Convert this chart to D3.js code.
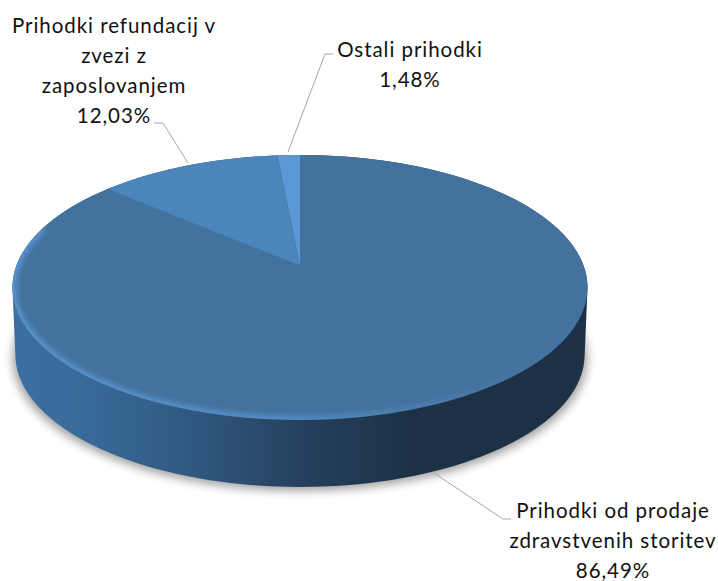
<!DOCTYPE html>
<html><head><meta charset="utf-8">
<style>html,body{margin:0;background:#fff}svg{display:block}text{font-family:Lato,"Open Sans",sans-serif;font-size:20.5px;letter-spacing:.95px;fill:#111}</style>
<script src="https://cdn.jsdelivr.net/npm/d3@7/dist/d3.min.js"></script></head><body>
<script>
const categories = ["Prihodki od prodaje zdravstvenih storitev","Prihodki refundacij v zvezi z zaposlovanjem","Ostali prihodki"];
const values = [86.49,12.03,1.48];
const valueLabels = ["86,49%","12,03%","1,48%"];
const colors = ["#44729f","#4c85b9","#5b97d4"];
const labelLines = [
  ["Prihodki od prodaje","zdravstvenih storitev","86,49%"],
  ["Prihodki refundacij v","zvezi z","zaposlovanjem","12,03%"],
  ["Ostali prihodki","1,48%"]];
const labelAnchors = [[613,518],[114,33],[410,57]];
const leaders = [
  [[434,473],[503,519],[511,519]],
  [[188,163],[163,123],[154,123]],
  [[288,152],[325,54],[333,54]]];

const W=718,H=581,cx=300,cy=266,a=283.7,b=129,p=0.162,depth=67,lh=30;
const svg=d3.select("body").append("svg").attr("width",W).attr("height",H);
const defs=svg.append("defs");
const proj=(t,dy=0,s=1)=>{const u=Math.sin(t),v=Math.cos(t),w=1+p*v;return [cx+s*a*u/w,cy-b*v/w+dy]};
const line=d3.line();
const arcPts=(t0,t1,dy=0,s=1)=>d3.range(0,181).map(i=>proj(t0+(t1-t0)*i/180,dy,s));

const pie=d3.pie().sort(null).value(d=>d).startAngle(0).endAngle(2*Math.PI);
const arcs=pie(values);

const grad=defs.append("linearGradient").attr("id","side").attr("gradientUnits","userSpaceOnUse").attr("x1",12).attr("x2",587).attr("y1",0).attr("y2",0);
[[0,"#3c6fa2"],[.12,"#386a9a"],[.3,"#315a82"],[.5,"#25415f"],[.7,"#1c3145"],[1,"#1c3145"]].forEach(([o,c])=>grad.append("stop").attr("offset",o).attr("stop-color",c));
const bev=defs.append("linearGradient").attr("id","bev").attr("gradientUnits","userSpaceOnUse").attr("x1",12).attr("x2",587).attr("y1",0).attr("y2",0);
[[0,"#5a95cf",.95],[.5,"#5590c8",.9],[.75,"#4f86b8",.45],[1,"#44729f",0]].forEach(([o,c,q])=>bev.append("stop").attr("offset",o).attr("stop-color",c).attr("stop-opacity",q));
defs.append("filter").attr("id","blur").attr("x","-10%").attr("y","-10%").attr("width","120%").attr("height","120%").append("feGaussianBlur").attr("stdDeviation",5);
defs.append("filter").attr("id","soft").attr("x","-10%").attr("y","-10%").attr("width","120%").attr("height","120%").append("feGaussianBlur").attr("stdDeviation",2.4);
const rim=arcPts(0,2*Math.PI);
defs.append("clipPath").attr("id","topClip").append("path").attr("d",line(rim)+"Z");

// cast shadow
svg.append("path").attr("d",line(arcPts(0,2*Math.PI,depth+4,1))+"Z").attr("fill","#000").attr("opacity",.36).attr("filter","url(#blur)");
// side wall: convex hull of the top and bottom rims
const hull=d3.polygonHull([...rim,...arcPts(0,2*Math.PI,depth,.99)]);
svg.append("path").attr("d",line(hull)+"Z").attr("fill","url(#side)");
// top slices
svg.append("g").selectAll("path").data(arcs).join("path")
  .attr("d",d=>line([[cx,cy],...arcPts(d.startAngle,d.endAngle)])+"Z")
  .attr("fill",(d,i)=>colors[i]);
// bevel
svg.append("g").attr("clip-path","url(#topClip)").append("path").attr("d",line(arcPts(Math.PI*.42,Math.PI*1.6))).attr("fill","none").attr("stroke","url(#bev)").attr("stroke-width",8).attr("filter","url(#soft)");
// leaders
svg.append("g").selectAll("path").data(leaders).join("path").attr("d",d=>line(d)).attr("fill","none").attr("stroke","#a6a6a6").attr("stroke-width",1);
// labels
labelLines.forEach((ls,i)=>{
  const t=svg.append("text").attr("text-anchor","middle");
  ls.forEach((s,j)=>t.append("tspan").attr("x",labelAnchors[i][0]).attr("y",labelAnchors[i][1]+j*lh).text(s));
});
</script></body></html>
